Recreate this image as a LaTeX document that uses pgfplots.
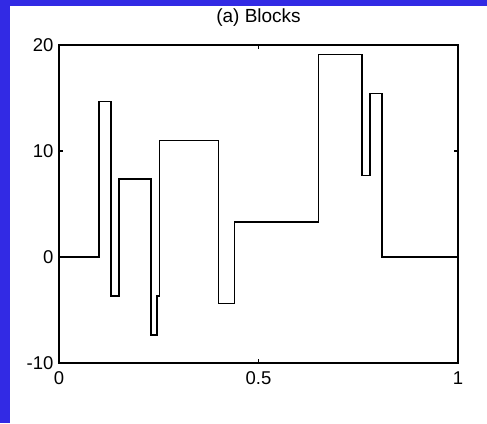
\documentclass[border=0pt]{standalone}
\usepackage{pgfplots}
\pgfplotsset{compat=1.18}
\usepackage{fontspec}
\setmainfont{Liberation Sans}
\definecolor{bgblue}{RGB}{50,42,228}
\begin{document}
\begin{tikzpicture}
\useasboundingbox (0,0) rectangle (487pt,423pt);
\fill[bgblue] (0,0) rectangle (487pt,423pt);
\fill[white] (10pt,0) rectangle (487pt,417pt);
\begin{axis}[
  at={(59pt,60pt)}, anchor=south west,
  scale only axis, width=399pt, height=318pt,
  xmin=0, xmax=1, ymin=-10, ymax=20,
  xtick={0,0.5,1}, xticklabels={0,0.5,1},
  ytick={-10,0,10,20},
  tick align=inside, major tick length=4pt,
  axis line style={line width=1.5pt},
  every tick/.style={line width=1.5pt, black},
  /pgf/number format/assume math mode=true,
  tick label style={font=\fontsize{18.5}{22}\selectfont},
  xticklabel style={yshift=-5pt},
  yticklabel style={xshift=-2pt},
  title={(a) Blocks},
  title style={font=\fontsize{19}{22}\selectfont, at={(0.5,1)}, anchor=base, yshift=16pt},
]
\addplot[black, line width=1.5pt, sharp plot] coordinates {
(0,0) (0.1,0) (0.1,14.68) (0.13,14.68) (0.13,-3.67) (0.15,-3.67) (0.15,7.34) (0.23,7.34) (0.23,-7.34) (0.246,-7.34) (0.246,-3.67) (0.252,-3.67) (0.252,11.01) (0.40,11.01) (0.40,-4.40) (0.44,-4.40) (0.44,3.30) (0.65,3.30) (0.65,19.08) (0.76,19.08) (0.76,7.71) (0.78,7.71) (0.78,15.41) (0.81,15.41) (0.81,0) (1,0)
};
\end{axis}
\end{tikzpicture}
\end{document}
